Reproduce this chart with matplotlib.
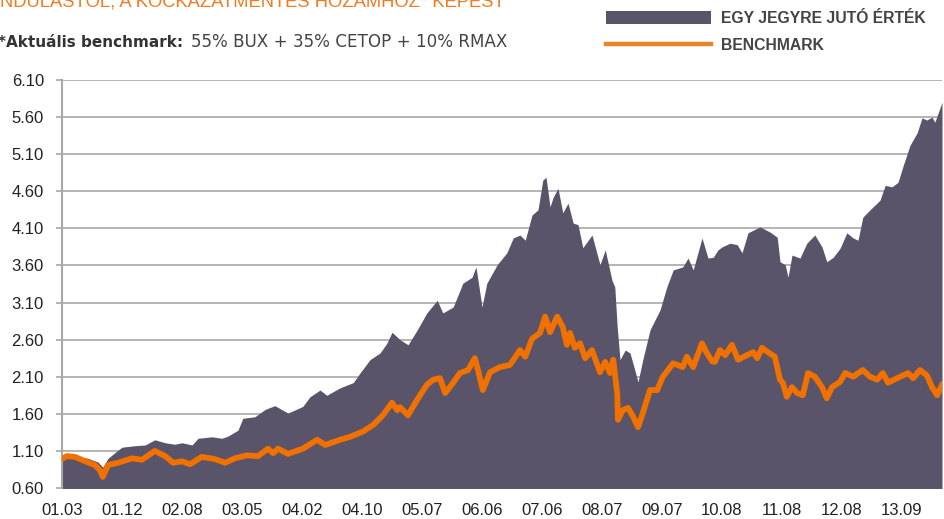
import matplotlib
matplotlib.use('Agg')
import matplotlib.pyplot as plt
from matplotlib.patches import Patch
from matplotlib.lines import Line2D
import numpy as np

# trading-day index of each read point (labels every 150 days)
fund_days = [0, 32, 65, 90, 102, 115, 140, 150, 182, 208, 232, 258, 282, 300, 325, 340, 375, 400, 415, 440,
             452, 482, 508, 532, 565, 602, 620, 645, 662, 695, 728, 745, 770, 795, 812, 825, 845, 865, 888, 912,
             938, 952, 978, 1002, 1025, 1035, 1050, 1062, 1088, 1112, 1128, 1145, 1158, 1175, 1190, 1202, 1210, 1220, 1228, 1240,
             1252, 1265, 1278, 1290, 1302, 1325, 1345, 1358, 1375, 1382, 1388, 1395, 1408, 1420, 1432, 1440, 1452, 1470, 1482, 1495,
             1512, 1528, 1552, 1565, 1578, 1600, 1615, 1628, 1640, 1650, 1670, 1688, 1700, 1715, 1745, 1770, 1788, 1795, 1808, 1815,
             1825, 1845, 1862, 1882, 1900, 1912, 1928, 1945, 1962, 1978, 1990, 2002, 2020, 2045, 2058, 2075, 2090, 2102, 2120, 2138,
             2150, 2162, 2175, 2182, 2200]
fund_values = [1.04, 1.03, 1.00, 0.95, 0.88, 1.00, 1.11, 1.15, 1.17, 1.18, 1.25, 1.21, 1.19, 1.21, 1.18, 1.27, 1.29, 1.27, 1.30, 1.38,
               1.54, 1.56, 1.66, 1.71, 1.61, 1.70, 1.83, 1.92, 1.85, 1.95, 2.02, 2.15, 2.33, 2.42, 2.55, 2.70, 2.60, 2.53, 2.73, 2.96,
               3.13, 2.96, 3.04, 3.36, 3.44, 3.58, 3.04, 3.36, 3.61, 3.77, 3.97, 4.01, 3.94, 4.28, 4.35, 4.75, 4.79, 4.39, 4.52, 4.64,
               4.31, 4.44, 4.17, 4.15, 3.84, 4.01, 3.61, 3.81, 3.40, 3.31, 2.77, 2.33, 2.46, 2.42, 2.19, 2.03, 2.33, 2.73, 2.86, 3.00,
               3.31, 3.54, 3.58, 3.70, 3.54, 3.97, 3.70, 3.71, 3.81, 3.85, 3.90, 3.88, 3.77, 4.04, 4.12, 4.05, 3.98, 3.65, 3.61, 3.44,
               3.74, 3.70, 3.90, 4.01, 3.85, 3.65, 3.71, 3.83, 4.04, 3.97, 3.94, 4.25, 4.35, 4.48, 4.68, 4.66, 4.72, 4.93, 5.22, 5.39,
               5.59, 5.56, 5.60, 5.53, 5.80]

bench_days = [0, 12, 32, 58, 82, 95, 102, 115, 140, 175, 200, 232, 258, 278, 300, 320, 350, 382, 408, 432,
              462, 490, 515, 528, 540, 565, 602, 638, 658, 695, 720, 752, 778, 802, 825, 838, 845, 865, 888, 912,
              928, 945, 958, 978, 995, 1015, 1032, 1040, 1052, 1070, 1095, 1120, 1145, 1158, 1175, 1195, 1208, 1220, 1238, 1252,
              1262, 1270, 1282, 1295, 1308, 1325, 1345, 1358, 1370, 1378, 1388, 1390, 1402, 1415, 1428, 1440, 1452, 1470, 1488, 1502,
              1528, 1552, 1562, 1578, 1600, 1612, 1625, 1632, 1645, 1658, 1675, 1690, 1712, 1728, 1738, 1750, 1765, 1782, 1795, 1802,
              1812, 1825, 1838, 1852, 1865, 1882, 1900, 1912, 1925, 1945, 1958, 1978, 2002, 2020, 2038, 2052, 2065, 2088, 2115, 2128,
              2145, 2162, 2175, 2188, 2200]
bench_values = [0.99, 1.03, 1.02, 0.96, 0.91, 0.84, 0.75, 0.91, 0.94, 1.00, 0.98, 1.10, 1.03, 0.94, 0.96, 0.92, 1.02, 0.99, 0.94, 1.00,
                1.04, 1.03, 1.13, 1.07, 1.13, 1.06, 1.13, 1.25, 1.18, 1.25, 1.29, 1.36, 1.45, 1.58, 1.75, 1.65, 1.69, 1.58, 1.79, 1.99,
                2.06, 2.08, 1.88, 2.02, 2.15, 2.19, 2.35, 2.19, 1.92, 2.16, 2.23, 2.26, 2.46, 2.37, 2.61, 2.69, 2.91, 2.70, 2.91, 2.77,
                2.53, 2.69, 2.49, 2.55, 2.35, 2.46, 2.16, 2.30, 2.15, 2.33, 1.88, 1.52, 1.65, 1.68, 1.56, 1.42, 1.61, 1.92, 1.92, 2.10,
                2.28, 2.23, 2.37, 2.23, 2.55, 2.42, 2.31, 2.30, 2.46, 2.39, 2.53, 2.33, 2.39, 2.43, 2.35, 2.49, 2.43, 2.37, 2.06, 2.02,
                1.83, 1.96, 1.88, 1.85, 2.15, 2.10, 1.96, 1.81, 1.96, 2.03, 2.15, 2.10, 2.19, 2.10, 2.06, 2.15, 2.02, 2.08, 2.15, 2.08,
                2.19, 2.12, 1.96, 1.85, 1.99]

x_labels = ['01.03', '01.12', '02.08', '03.05', '04.02', '04.10', '05.07', '06.06',
            '07.06', '08.07', '09.07', '10.08', '11.08', '12.08', '13.09']
label_step = 150
y_ticks = [0.60, 1.10, 1.60, 2.10, 2.60, 3.10, 3.60, 4.10, 4.60, 5.10, 5.60, 6.10]

FUND_COLOR = '#595469'
BENCH_COLOR = '#f07000'
GRID_COLOR = '#a8a8a8'
TEXT_COLOR = '#444444'
TICK_FONT = 'Liberation Sans'

W, H = 944, 519
fig = plt.figure(figsize=(W / 100, H / 100), dpi=100)
ax = fig.add_axes([62 / W, 1 - 488 / H, 880 / W, 408 / H])

ax.fill_between(fund_days, fund_values, 0, color=FUND_COLOR, lw=0, zorder=2)
ax.plot(bench_days, bench_values, color=BENCH_COLOR, lw=4.2, solid_joinstyle='round', zorder=3)

ax.set_xlim(0, 2200)
ax.set_ylim(0.60, 6.10)
ax.set_yticks(y_ticks)
ax.set_yticklabels(['%.2f' % v for v in y_ticks], fontfamily=TICK_FONT, fontsize=12, color='#222222')
ax.set_xticks([i * label_step for i in range(len(x_labels))])
ax.set_xticklabels(x_labels, fontfamily=TICK_FONT, fontsize=12, color='#222222')

ax.set_axisbelow(True)
ax.yaxis.grid(True, color=GRID_COLOR, lw=1.2)
for s in ['top', 'right', 'bottom']:
    ax.spines[s].set_visible(False)
ax.spines['left'].set_color(GRID_COLOR)
ax.spines['left'].set_linewidth(1.5)
ax.tick_params(axis='y', length=4, width=1.2, color=GRID_COLOR, pad=9)
ax.tick_params(axis='x', length=0, pad=11)

#Header texts
fig.text(0, 1 - 7 / H, 'NDULÁSTÓL, A KOCKÁZATMENTES HOZAMHOZ* KÉPEST', color='#f47a20',
         fontsize=13.2, family='Liberation Sans', va='baseline')
fig.text(-2 / W, 1 - 47 / H, '*Aktuális benchmark:', color='#333333', fontsize=11,
         family='DejaVu Sans', fontweight='bold', va='baseline')
fig.text(191 / W, 1 - 47 / H, '55% BUX + 35% CETOP + 10% RMAX', color=TEXT_COLOR, fontsize=12.1,
         family='DejaVu Sans', va='baseline')

#Legend
handles = [Patch(facecolor=FUND_COLOR, edgecolor='none'),
           Line2D([], [], color='#e8852a', lw=3.2)]
leg = fig.legend(handles, ['EGY JEGYRE JUTÓ ÉRTÉK', 'BENCHMARK'], loc='upper left',
                 bbox_to_anchor=(606 / W, 1 - 11 / H), frameon=False, borderpad=0, borderaxespad=0,
                 handlelength=6.7, handleheight=0.9, handletextpad=0.6, labelspacing=0.75,
                 prop={'family': 'Liberation Sans', 'weight': 'bold', 'size': 11.3})
for t in leg.get_texts():
    t.set_color(TEXT_COLOR)

fig.savefig('out.png', dpi=100)
